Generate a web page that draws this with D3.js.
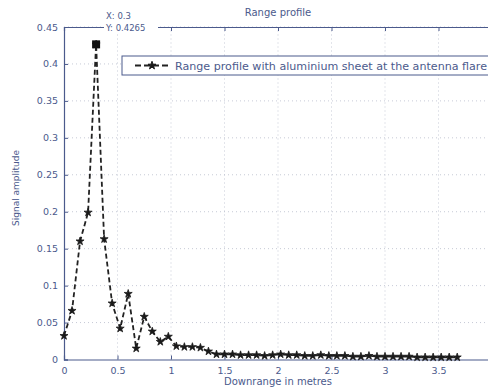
<!DOCTYPE html>
<html>
<head>
<meta charset="utf-8">
<script src="https://cdn.jsdelivr.net/npm/d3@7"></script>
<style>
  body { margin: 0; background: #fff; }
  text { font-family: "DejaVu Sans", Verdana, sans-serif; }
</style>
</head>
<body>
<div id="chart"></div>
<script>
// range profile samples, 0.075 m apart
var xStep = 0.075;
var amplitude = [0.032, 0.066, 0.160, 0.199, 0.4265, 0.163, 0.076, 0.042, 0.089, 0.015,
  0.058, 0.038, 0.024, 0.031, 0.018, 0.017, 0.017, 0.016, 0.011, 0.007,
  0.007, 0.007, 0.006, 0.006, 0.006, 0.005, 0.006, 0.007, 0.006, 0.006,
  0.005, 0.005, 0.006, 0.005, 0.005, 0.005, 0.004, 0.004, 0.005, 0.004,
  0.004, 0.004, 0.004, 0.004, 0.003, 0.003, 0.003, 0.003, 0.003, 0.003];

var xTicks = [0, 0.5, 1, 1.5, 2, 2.5, 3, 3.5];
var yTicks = [0, 0.05, 0.1, 0.15, 0.2, 0.25, 0.3, 0.35, 0.4, 0.45];
var legendLabel = "Range profile with aluminium sheet at the antenna flare";

var w = 488, h = 390;
var ink = "#4b5a8c";

var svg = d3.select("#chart").append("svg")
  .attr("width", w)
  .attr("height", h);

var x = d3.scaleLinear().domain([0, 4]).range([64, 492]);
var y = d3.scaleLinear().domain([0, 0.45]).range([359.5, 27]);

var points = amplitude.map(function(v, i) { return [i * xStep, v]; });

// grid
var grid = svg.append("g");
xTicks.slice(1).forEach(function(t) {
  grid.append("line")
    .attr("x1", x(t)).attr("x2", x(t))
    .attr("y1", y(0)).attr("y2", y(0.45))
    .attr("stroke", "#b8bccb").attr("stroke-width", 0.8)
    .attr("stroke-dasharray", "1,3");
});
yTicks.slice(1).forEach(function(t) {
  grid.append("line")
    .attr("x1", x(0)).attr("x2", x(4))
    .attr("y1", y(t)).attr("y2", y(t))
    .attr("stroke", "#b8bccb").attr("stroke-width", 0.8)
    .attr("stroke-dasharray", "1,3");
});

// axes with inward ticks
var xAxis = svg.append("g")
  .attr("transform", "translate(0," + y(0) + ")")
  .call(d3.axisBottom(x).tickValues(xTicks).tickSize(-4).tickPadding(8)
    .tickFormat(d3.format("")));
var xTop = svg.append("g")
  .attr("transform", "translate(0," + y(0.45) + ")")
  .call(d3.axisTop(x).tickValues(xTicks).tickSize(-4).tickFormat(""));
var yAxis = svg.append("g")
  .attr("transform", "translate(" + x(0) + ",0)")
  .call(d3.axisLeft(y).tickValues(yTicks).tickSize(-4).tickPadding(6)
    .tickFormat(function(d) { return d === 0 ? "0" : d3.format(".2~f")(d); }));

[xAxis, xTop, yAxis].forEach(function(g) {
  g.select(".domain").attr("stroke", ink).attr("stroke-width", 1.2);
  g.selectAll(".tick line").attr("stroke", ink);
  g.selectAll(".tick text").attr("fill", ink).attr("font-size", 9.5);
});

// data line
var line = d3.line()
  .x(function(d) { return x(d[0]); })
  .y(function(d) { return y(d[1]); });

svg.append("path")
  .datum(points)
  .attr("fill", "none")
  .attr("stroke", "#222")
  .attr("stroke-width", 1.8)
  .attr("stroke-dasharray", "5,3")
  .attr("d", line);

var star = d3.symbol().type(d3.symbolStar).size(20);
svg.append("g").selectAll("path")
  .data(points)
  .join("path")
  .attr("d", star)
  .attr("transform", function(d) { return "translate(" + x(d[0]) + "," + y(d[1]) + ")"; })
  .attr("fill", "#1a1a1a")
  .attr("stroke", "#1a1a1a")
  .attr("stroke-width", 0.8);

// datatip on the peak
var peak = points[4];
svg.append("rect")
  .attr("x", x(peak[0]) - 4).attr("y", y(peak[1]) - 4)
  .attr("width", 8).attr("height", 8)
  .attr("fill", "#111");
svg.append("rect")
  .attr("x", 104).attr("y", 9)
  .attr("width", 54).attr("height", 24)
  .attr("fill", "#fff");
svg.append("text")
  .attr("x", 106).attr("y", 19)
  .attr("font-size", 8.5).attr("fill", ink)
  .text("X: 0.3");
svg.append("text")
  .attr("x", 106).attr("y", 31)
  .attr("font-size", 8.5).attr("fill", ink)
  .text("Y: 0.4265");

// legend
var lg = svg.append("g");
lg.append("rect")
  .attr("x", 122).attr("y", 56)
  .attr("width", 380).attr("height", 19)
  .attr("fill", "#fff")
  .attr("stroke", ink).attr("stroke-width", 1);
lg.append("line")
  .attr("x1", 135).attr("x2", 171)
  .attr("y1", 65.5).attr("y2", 65.5)
  .attr("stroke", "#222").attr("stroke-width", 1.8)
  .attr("stroke-dasharray", "6,3");
lg.append("path")
  .attr("d", star)
  .attr("transform", "translate(152,65.5)")
  .attr("fill", "#1a1a1a")
  .attr("stroke", "#1a1a1a");
lg.append("text")
  .attr("x", 175).attr("y", 69.5)
  .attr("font-size", 10).attr("fill", ink)
  .attr("textLength", 312).attr("lengthAdjust", "spacingAndGlyphs")
  .text(legendLabel);

// titles
svg.append("text")
  .attr("x", 278).attr("y", 16)
  .attr("text-anchor", "middle")
  .attr("font-size", 10).attr("fill", ink)
  .text("Range profile");
svg.append("text")
  .attr("x", 278).attr("y", 385)
  .attr("text-anchor", "middle")
  .attr("font-size", 10).attr("fill", ink)
  .text("Downrange in metres");
svg.append("text")
  .attr("transform", "translate(19,188) rotate(-90)")
  .attr("text-anchor", "middle")
  .attr("font-size", 9).attr("fill", ink)
  .text("Signal amplitude");
</script>
</body>
</html>
